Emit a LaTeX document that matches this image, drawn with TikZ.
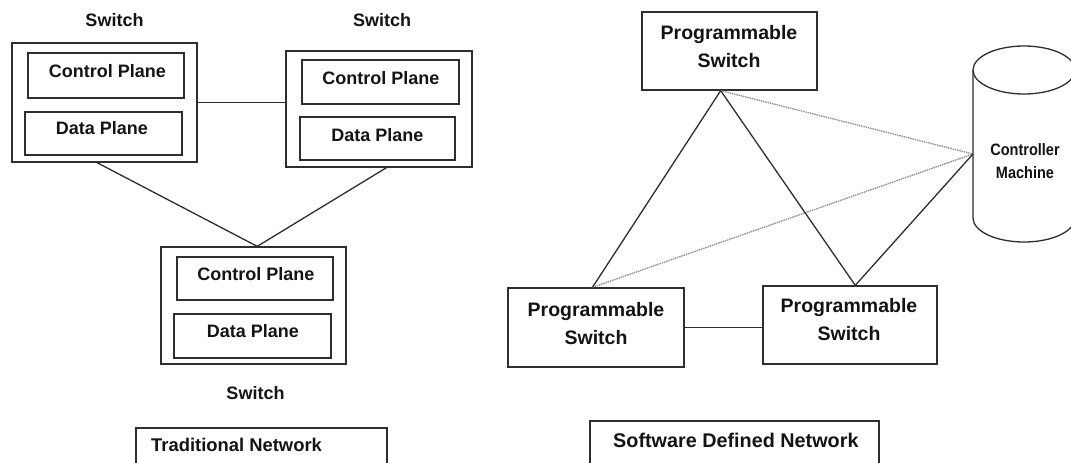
\documentclass[tikz,border=0pt]{standalone}
\usepackage{fontspec}
\setmainfont{Liberation Sans}
\newfontfamily\narrowfont[FakeStretch=0.88]{Liberation Sans}
\usetikzlibrary{calc}
\definecolor{linec}{HTML}{2E2E2E}
\definecolor{textc}{HTML}{141414}
\definecolor{dotc}{HTML}{8A8A8A}
\begin{document}
\begin{tikzpicture}[x=1pt,y=-1pt,
  box/.style={draw=linec, line width=1.3pt, inner sep=0pt, fill=none},
  lbl/.style={text=textc, inner sep=0pt, font=\bfseries\fontsize{18}{21}\selectfont},
  plbl/.style={text=textc, inner sep=0pt, align=center, font=\bfseries\fontsize{19.5}{28}\selectfont},
  link/.style={draw=linec, line width=1.3pt},
  ctl/.style={draw=dotc, line width=1.3pt, dash pattern=on 1.4pt off 0.9pt}]
\useasboundingbox (0,0) rectangle (1071,463);
\fill[white] (0,0) rectangle (1071,463);

% ---------- traditional network ----------
\node[box, minimum width=185, minimum height=119] (tl) at (104.5,102.5) {};
\node[box, minimum width=156, minimum height=45] (tlcp) at (106,75.5) {};
\node[box, minimum width=157, minimum height=43] (tldp) at (103.5,133.5) {};
\node[lbl] at (107.5,71) {Control Plane};
\node[lbl] at (102,128) {Data Plane};
\node[lbl] (tlname) at (114.5,20) {Switch};

\node[box, minimum width=186, minimum height=116] (tr) at (379,109) {};
\node[box, minimum width=157, minimum height=44] (trcp) at (380.5,82) {};
\node[box, minimum width=155, minimum height=43] (trdp) at (377.5,138.5) {};
\node[lbl] at (381,78) {Control Plane};
\node[lbl] at (377.5,135) {Data Plane};
\node[lbl] (trname) at (382,20) {Switch};

\node[box, minimum width=185, minimum height=117] (bt) at (253.5,305.5) {};
\node[box, minimum width=156, minimum height=43] (btcp) at (255,278.5) {};
\node[box, minimum width=157, minimum height=44] (btdp) at (252.5,336) {};
\node[lbl] at (256,274) {Control Plane};
\node[lbl] at (253,331) {Data Plane};
\node[lbl] (btname) at (255.5,393) {Switch};

\node[box, minimum width=251, minimum height=47] (trad) at (261.5,451.5) {};
\node[lbl, anchor=west, font=\bfseries\fontsize{18.4}{21}\selectfont] at (151,445) {Traditional Network};

\draw[link] (tl.east) -- (tl.east -| tr.west);
\draw[link] ($(tl.south west)!0.46!(tl.south east)$) -- ($(bt.north west)!0.52!(bt.north east)$);
\draw[link] ($(tr.south west)!0.54!(tr.south east)$) -- ($(bt.north west)!0.52!(bt.north east)$);

% ---------- software defined network ----------
\node[box, minimum width=175, minimum height=78] (ps) at (729.5,51) {};
\node[plbl] at (729,47) {Programmable\\Switch};
\node[box, minimum width=176, minimum height=79] (bl) at (596,327.5) {};
\node[plbl] at (596,323.5) {Programmable\\Switch};
\node[box, minimum width=174, minimum height=78] (br) at (850,325) {};
\node[plbl] at (849,320) {Programmable\\Switch};

\node[box, minimum width=289, minimum height=54] (sdn) at (734.5,448) {};
\node[lbl, anchor=west, font=\bfseries\fontsize{19.8}{22}\selectfont] at (613,440) {Software Defined Network};

% controller machine drawn as a cylinder
\draw[draw=linec, line width=1.3pt]
  (973,70) -- (973,218) arc[start angle=180, end angle=360, x radius=51pt, y radius=24pt]
  -- (1075,70);
\draw[draw=linec, line width=1.3pt] (1024,70) ellipse[x radius=51pt, y radius=24pt];
\node[text=textc, inner sep=0pt, align=center,
      font=\narrowfont\bfseries\fontsize{16.5}{23}\selectfont] (ctrl) at (1025,161.5) {Controller\\Machine};
\coordinate (port) at (973,154);

\coordinate (psf) at ($(ps.south west)!0.45!(ps.south east)$);
\coordinate (blf) at ($(bl.north west)!0.48!(bl.north east)$);
\coordinate (brf) at ($(br.north west)!0.53!(br.north east)$);

\draw[ctl] (psf) -- (port);
\draw[ctl] (blf) -- (port);
\draw[link] (psf) -- (blf);
\draw[link] (psf) -- (brf);
\draw[link] (brf) -- (port);
\draw[link] (bl.east) -- (bl.east -| br.west);
\end{tikzpicture}
\end{document}
